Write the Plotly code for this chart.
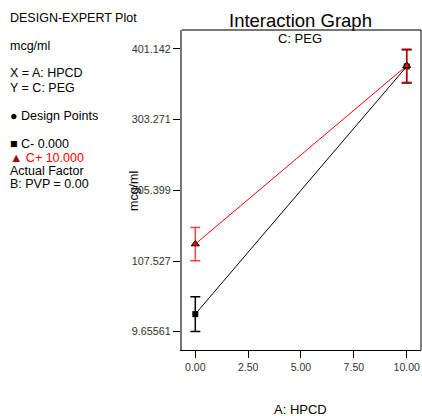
import plotly.graph_objects as go

# ---- data ----
hpcd_levels = [0.0, 10.0]
c_minus_mean = [34.0, 377.0]
c_minus_err = [24.0, 23.0]
c_plus_mean = [131.0, 378.0]
c_plus_err = [23.0, 23.0]

y_tickvals = [9.65561, 107.527, 205.399, 303.271, 401.142]
y_ticktext = ["9.65561", "107.527", "205.399", "303.271", "401.142"]
x_tickvals = [0, 2.5, 5, 7.5, 10]
x_ticktext = ["0.00", "2.50", "5.00", "7.50", "10.00"]

W, H = 422, 416
L, R, T, B = 182, 1, 30, 66
PW, PH = W - L - R, H - T - B

def px(x):
    return (x - L) / PW

def py(y):
    return (H - B - y) / PH

FONT = "Liberation Sans, Arial, sans-serif"

fig = go.Figure()

fig.add_trace(go.Scatter(
    x=hpcd_levels, y=c_minus_mean, mode="lines+markers",
    line=dict(color="black", width=1),
    marker=dict(symbol="square", size=6, color="black"),
    error_y=dict(type="data", array=c_minus_err, color="black", thickness=1.5, width=5),
    showlegend=False))

fig.add_trace(go.Scatter(
    x=hpcd_levels, y=c_plus_mean, mode="lines+markers",
    line=dict(color="red", width=1),
    marker=dict(symbol="triangle-up", size=7, color="red", line=dict(color="black", width=1)),
    error_y=dict(type="data", array=c_plus_err, color="rgba(255,0,0,0.75)", thickness=1.5, width=5),
    showlegend=False))

fig.update_xaxes(
    range=[-0.629, 10.677], tickvals=x_tickvals, ticktext=x_ticktext,
    showgrid=False, zeroline=False, showline=True, linecolor="black", linewidth=1,
    ticks="outside", ticklen=7, tickcolor="black",
    tickfont=dict(family=FONT, size=10.5, color="#333"))
fig.update_yaxes(
    range=[-15.7, 427.4], tickvals=y_tickvals, ticktext=y_ticktext,
    showgrid=False, zeroline=False, showline=True, linecolor="#777", linewidth=2,
    ticks="outside", ticklen=7, tickcolor="black",
    tickfont=dict(family=FONT, size=10.8, color="#333"))

# top (gray) and right (black) frame lines
fig.add_shape(type="line", xref="paper", yref="paper", x0=0, x1=1, y0=1, y1=1,
              line=dict(color="#777", width=2))
fig.add_shape(type="line", xref="paper", yref="paper", x0=1, x1=1, y0=0, y1=1,
              line=dict(color="black", width=1))

anns = []
def ann(text, x, y, size=12.5, color="black", xanchor="left", angle=0):
    anns.append(dict(text=text, x=px(x), y=py(y), xref="paper", yref="paper",
                     xanchor=xanchor, yanchor="middle", showarrow=False, textangle=angle,
                     font=dict(family=FONT, size=size, color=color)))

ann("Interaction Graph", 300, 20, size=18.5, xanchor="center")
ann("C: PEG", 300, 39, size=13, xanchor="center")
ann("A: HPCD", 300, 409, size=13, xanchor="center")
ann("mcg/ml", 134, 191, size=12.5, xanchor="center", angle=-90)

ann("DESIGN-EXPERT Plot", 8, 18)
ann("mcg/ml", 8, 46)
ann("X = A: HPCD", 8, 73)
ann("Y = C: PEG", 8, 88)
ann("\u25cf Design Points", 8, 116)
ann("\u25a0 C- 0.000", 8, 144)
ann("<span style='color:#a00000'>\u25b2</span> C+ 10.000", 8, 158, color="red")
ann("Actual Factor", 8, 171)
ann("B: PVP = 0.00", 8, 184)

fig.update_layout(
    width=W, height=H, margin=dict(l=L, r=R, t=T, b=B),
    paper_bgcolor="white", plot_bgcolor="white",
    annotations=anns)

fig.write_html(
    "out.html",
    config={"displayModeBar": False},
    post_script="document.body.style.margin='0';document.body.style.overflow='hidden';")
